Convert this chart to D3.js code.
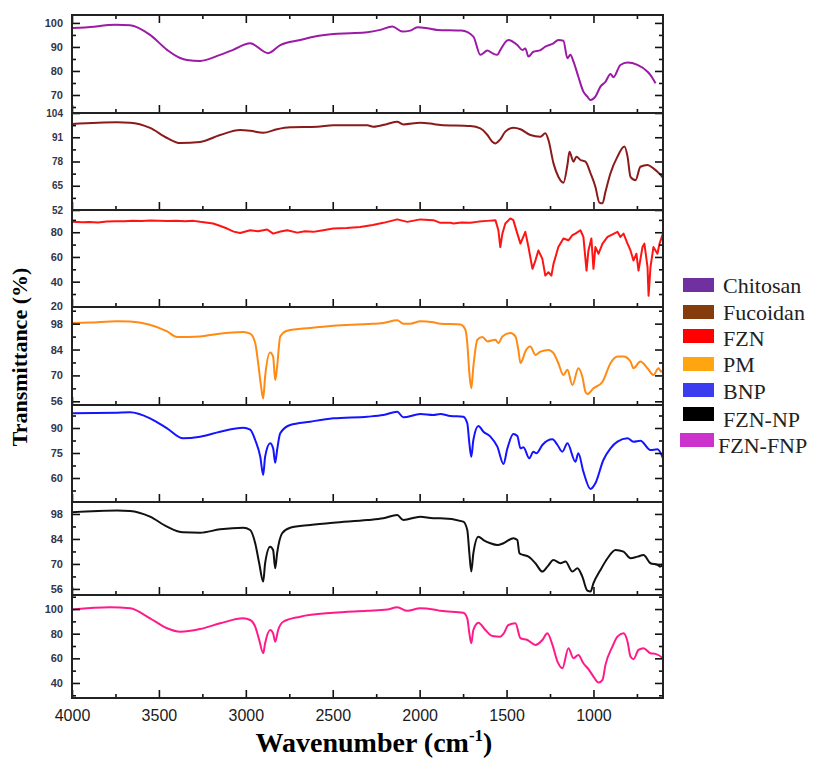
<!DOCTYPE html>
<html>
<head>
<meta charset="utf-8">
<script src="https://cdn.jsdelivr.net/npm/d3@7"></script>
<style>
  body { margin: 0; background: #fff; }
  svg { display: block; }
</style>
</head>
<body>
<svg id="chart" width="813" height="761"></svg>
<script>
// spectra: [wavenumber cm-1, transmittance %]
const chitosan = [[4000,97.9],[3925,98.1],[3750,99.2],[3666,99.0],[3551,95],[3453,88.8],[3378,85.4],[3338,84.6],[3263,84.2],[3148,86.7],[3073,88.8],[2975,91.5],[2871,87.4],[2802,90.8],[2687,92.9],[2589,94.6],[2497,95.4],[2399,95.7],[2301,96.1],[2227,97.1],[2157,98.5],[2100,96.4],[2054,96.8],[2013,98.2],[1956,97.8],[1898,97.1],[1760,96.8],[1691,94.3],[1651,86.7],[1610,88.5],[1582,87.4],[1553,86.7],[1536,88.7],[1490,92.9],[1438,90.8],[1409,88.7],[1392,89.4],[1374,86],[1346,88],[1305,88.7],[1277,90.1],[1230,91.5],[1202,92.9],[1173,92.6],[1150,85.3],[1133,86.7],[1115,83.9],[1087,77.6],[1058,71.4],[1035,69.3],[1017,67.9],[989,69.3],[960,73.5],[931,75.5],[902,78.7],[885,77.4],[845,82.5],[804,83.5],[747,82.5],[689,79.7],[672,78.3],[643,74.9]];

const fucoidan = [[4000,98.1],[3741,99.0],[3666,98.8],[3551,96],[3453,90.6],[3378,87.9],[3263,88.5],[3148,92.2],[3033,94.9],[2975,94.5],[2900,93.4],[2820,95.3],[2745,96.3],[2589,96.6],[2497,97.4],[2301,97.4],[2267,96.6],[2186,98.1],[2129,99.3],[2094,97.9],[1996,98.8],[1921,98.1],[1881,97.6],[1708,97],[1651,95.8],[1610,92.2],[1582,88.6],[1564,87.7],[1536,89.9],[1507,94],[1461,96.1],[1420,95.3],[1363,92.2],[1305,91.3],[1277,93.1],[1259,89.5],[1230,77],[1202,69.8],[1173,66.6],[1150,76.1],[1138,83.2],[1115,77.9],[1098,80.6],[1075,78.8],[1046,77.9],[1017,71.7],[989,64.5],[966,56],[948,55.6],[931,61.8],[902,71.7],[862,80.6],[822,86],[804,80.6],[787,69.8],[758,68],[730,75.2],[689,76.1],[655,74.3],[614,70.8],[600,69.3]];

const fzn = [[4000,88.4],[3940,88.0],[3900,88.3],[3850,87.9],[3800,88.6],[3750,88.8],[3700,88.9],[3650,89.3],[3600,89.1],[3550,89.5],[3500,89.3],[3450,89.0],[3400,89.2],[3350,88.9],[3300,89.2],[3263,88.4],[3188,87.1],[3150,85.2],[3108,83],[3070,80.5],[3033,79.4],[2975,81.6],[2930,80.8],[2877,82.2],[2843,78.9],[2800,80.6],[2762,81.6],[2704,79.7],[2660,80.8],[2612,80.3],[2555,81.6],[2497,83],[2420,83.5],[2342,84.3],[2270,85.8],[2209,87.6],[2129,90.4],[2071,88.4],[1996,90.4],[1921,89.8],[1881,87.6],[1823,87.6],[1806,87.1],[1760,87.9],[1708,87.6],[1660,88.6],[1610,89.2],[1564,89.8],[1547,81.6],[1536,68],[1524,78.9],[1507,87.1],[1478,91.2],[1461,89.8],[1438,78.9],[1420,70.8],[1392,80.3],[1374,68],[1351,50.4],[1334,57.1],[1317,65.3],[1294,58.5],[1277,44.9],[1259,47.6],[1242,44.9],[1230,54.4],[1202,68],[1173,74.9],[1144,73.5],[1121,77.6],[1104,78.9],[1075,81.6],[1058,76.2],[1040,49],[1029,65.3],[1012,74.9],[1000,50.4],[989,68],[971,62.6],[948,70.8],[919,76.2],[862,80.3],[845,76.2],[827,78.9],[804,70.8],[787,65.3],[770,57.1],[753,62.6],[741,49],[718,68],[707,70.8],[689,51.7],[683,28.6],[672,51.7],[655,68],[632,62.6],[620,70.8],[600,78.9]];

const pm = [[4000,98.4],[3900,98.6],[3741,99.3],[3666,99.1],[3453,93.8],[3395,90.8],[3263,91.1],[3165,92.4],[3015,93.5],[2975,92.6],[2946,87.5],[2929,76.6],[2912,63.9],[2900,57.5],[2889,69.3],[2860,82.4],[2843,80.2],[2831,67.5],[2820,74.7],[2802,91.1],[2762,94.2],[2630,95.7],[2497,96.9],[2301,97.8],[2209,98.4],[2129,99.8],[2094,98],[2054,98],[1996,99.3],[1921,98.7],[1881,98],[1766,97.5],[1737,94.7],[1726,87.5],[1714,71.2],[1703,63],[1691,74.7],[1668,89.3],[1639,90.8],[1610,88.4],[1564,89.3],[1547,87.5],[1524,91.1],[1478,92.9],[1449,91.1],[1432,83.8],[1420,76.6],[1409,78.4],[1392,82.9],[1363,85.6],[1334,81.1],[1305,82.9],[1259,83.8],[1230,82],[1202,76.6],[1173,70.2],[1150,73],[1121,64.8],[1087,73.9],[1064,69.3],[1046,61.1],[1035,59.9],[1000,63],[948,66.6],[902,76.6],[862,80.2],[827,80.2],[787,77.5],[770,73.9],[730,77.5],[689,73.9],[655,70.2],[626,73.9],[610,72],[600,73]];

const bnp = [[4000,98.8],[3741,99.2],[3666,99.4],[3551,95.8],[3453,89.8],[3361,83.8],[3263,84.8],[3148,87.8],[3015,90.2],[2975,89],[2946,82.8],[2917,72.8],[2900,61.8],[2889,72.8],[2860,80.8],[2843,77.8],[2831,69.2],[2820,76.8],[2802,86.8],[2745,91.8],[2630,93.8],[2497,95.8],[2301,96.8],[2209,97.8],[2129,99.8],[2094,96.4],[1996,98.4],[1921,97.8],[1881,98.4],[1823,97.2],[1749,96.8],[1726,92.8],[1714,80.8],[1703,72.8],[1691,82.8],[1662,91.2],[1633,87.8],[1593,84.8],[1553,78.8],[1518,68.4],[1495,77.8],[1461,86.4],[1438,85.2],[1420,77.8],[1403,78.4],[1369,71.8],[1346,75.8],[1328,74.8],[1294,79.8],[1236,83.2],[1207,79.8],[1179,75.8],[1150,80.8],[1104,69.8],[1087,74.8],[1058,63.8],[1017,53.4],[989,56.8],[943,70.8],[902,77.8],[862,81.8],[804,83.8],[770,81.8],[730,82.4],[672,76.8],[632,77.2],[600,71.8]];

const fznNp = [[4000,99],[3741,99.9],[3666,99.7],[3551,96.5],[3453,90.9],[3361,87.7],[3263,87.5],[3148,89.4],[3015,90.3],[2975,89],[2946,81.6],[2923,70.4],[2900,60.1],[2889,70.4],[2860,79.7],[2843,77.8],[2831,67.6],[2820,76],[2791,87.2],[2745,90.3],[2630,91.8],[2497,93.1],[2301,94.6],[2209,95.6],[2129,97.4],[2094,94.6],[1996,96.5],[1921,95.6],[1881,95.6],[1749,93.7],[1726,89],[1714,76],[1703,65.7],[1691,76],[1662,85.3],[1633,83.4],[1593,81.6],[1553,80.6],[1518,81.6],[1461,84.4],[1438,83.4],[1426,76],[1403,75],[1374,74.1],[1334,70.4],[1294,65.7],[1265,68.5],[1230,72.2],[1190,70.4],[1161,71.3],[1121,65.7],[1092,67.6],[1064,62.9],[1035,55],[1017,54.5],[1000,59.2],[960,66.6],[919,73.2],[873,77.8],[827,76.9],[787,73.2],[747,74.1],[712,75],[672,70.4],[632,69.5],[614,68.5],[600,70.4]];

const fznFnp = [[4000,99.7],[3781,101.4],[3666,100.6],[3551,92.5],[3453,84.4],[3378,81.6],[3263,83.8],[3148,88.4],[3015,92.5],[2975,91.1],[2946,85.7],[2923,74.9],[2900,64.1],[2889,72.2],[2860,83],[2843,80.3],[2831,73.5],[2814,83],[2785,89.7],[2687,93.8],[2497,97],[2301,98.6],[2186,99.7],[2129,101.4],[2071,98.6],[1996,100.6],[1921,99.7],[1881,98.6],[1749,97],[1726,92.5],[1714,80.3],[1703,72.2],[1691,83],[1662,88.9],[1622,83],[1582,78.1],[1536,77.6],[1518,79.8],[1490,87],[1449,88.4],[1420,76.3],[1380,74.9],[1334,70.9],[1294,74.9],[1265,80.3],[1236,70.9],[1207,57.3],[1179,52],[1144,68.2],[1115,60.1],[1087,62.8],[1058,56],[1029,51.2],[1000,45.2],[971,40.3],[948,42.5],[931,54.7],[891,69.5],[862,77.6],[827,80.3],[804,73.5],[787,61.4],[770,59.3],[741,66.8],[712,68.2],[672,64.1],[643,63.6],[603,60.1],[600,59]];

const names = ["Chitosan", "Fucoidan", "FZN", "PM", "BNP", "FZN-NP", "FZN-FNP"];
const series = [chitosan, fucoidan, fzn, pm, bnp, fznNp, fznFnp];
const yDomains = [[62.5, 103.3], [52, 104], [19.5, 98], [54, 107], [45.6, 103.8], [52.6, 104.7], [27.8, 111.4]];
const yMajor = [[100, 90, 80, 70], [104, 91, 78, 65, 52], [80, 60, 40, 20], [98, 84, 70, 56], [90, 75, 60], [98, 84, 70, 56], [100, 80, 60, 40]];
const yMinor = [[95, 85, 75, 65], [97.5, 84.5, 71.5, 58.5], [90, 70, 50, 30], [105, 91, 77, 63], [97.5, 82.5, 67.5, 52.5], [91, 77, 63], [110, 90, 70, 50, 30]];
const xMajor = [4000, 3500, 3000, 2500, 2000, 1500, 1000];
const xMinor = [3750, 3250, 2750, 2250, 1750, 1250, 750];

const lineColors = ["#9b1aa6", "#8b1a1a", "#ff1414", "#ff8a14", "#1414ff", "#111111", "#ff1a8a"];
const swatchColors = ["#7030a0", "#843c0c", "#ff0000", "#ffa50f", "#3b3bef", "#000000", "#cc33cc"];

// layout
const panelTop = [15, 113, 210, 307, 405, 502, 595];
const panelBottom = [113, 210, 307, 405, 502, 595, 698];
const left = 72, right = 663;

const svg = d3.select("#chart");
const x = d3.scaleLinear().domain([4000, 600]).range([left, right]);

series.forEach(function(data, i) {
    const y = d3.scaleLinear().domain(yDomains[i]).range([panelBottom[i], panelTop[i]]);
    const g = svg.append("g");

    g.append("clipPath").attr("id", "clip" + i)
        .append("rect")
        .attr("x", left).attr("y", panelTop[i])
        .attr("width", right - left).attr("height", panelBottom[i] - panelTop[i]);

    const line = d3.line()
        .x(d => x(d[0]))
        .y(d => y(d[1]));
    if (i != 2) line.curve(d3.curveMonotoneX);

    g.append("path")
        .datum(data)
        .attr("clip-path", "url(#clip" + i + ")")
        .attr("fill", "none")
        .attr("stroke", lineColors[i])
        .attr("stroke-width", 2)
        .attr("stroke-linejoin", "round")
        .attr("d", line);

    // left axis, ticks pointing inward
    const yl = g.append("g").attr("transform", "translate(" + left + ",0)")
        .call(d3.axisLeft(y).tickValues(yMajor[i]).tickSize(-8).tickPadding(9));
    yl.selectAll("text")
        .attr("font-family", "Liberation Sans, Arial, sans-serif")
        .attr("font-weight", "bold")
        .attr("font-size", i == 1 ? 10 : 11)
        .attr("fill", "#34344a");
    g.append("g").attr("transform", "translate(" + left + ",0)")
        .call(d3.axisLeft(y).tickValues(yMinor[i]).tickSize(-4).tickFormat(""));

    // right axis
    g.append("g").attr("transform", "translate(" + right + ",0)")
        .call(d3.axisRight(y).tickValues(yMajor[i]).tickSize(-8).tickFormat(""));
    g.append("g").attr("transform", "translate(" + right + ",0)")
        .call(d3.axisRight(y).tickValues(yMinor[i]).tickSize(-4).tickFormat(""));

    // bottom ticks
    const xb = g.append("g").attr("transform", "translate(0," + panelBottom[i] + ")")
        .call(d3.axisBottom(x).tickValues(xMajor).tickSize(-8).tickPadding(12)
            .tickFormat(i == series.length - 1 ? d3.format("d") : ""));
    xb.selectAll("text")
        .attr("font-family", "Liberation Sans, Arial, sans-serif")
        .attr("font-size", 16)
        .attr("fill", "#1a1a1a");
    g.append("g").attr("transform", "translate(0," + panelBottom[i] + ")")
        .call(d3.axisBottom(x).tickValues(xMinor).tickSize(-4).tickFormat(""));

    if (i == 0) {
        g.append("g").attr("transform", "translate(0," + panelTop[i] + ")")
            .call(d3.axisTop(x).tickValues(xMajor).tickSize(-8).tickFormat(""));
        g.append("g").attr("transform", "translate(0," + panelTop[i] + ")")
            .call(d3.axisTop(x).tickValues(xMinor).tickSize(-4).tickFormat(""));
    }

    g.selectAll(".domain").remove();
    g.selectAll(".tick line").attr("stroke", "#111").attr("stroke-width", 1.6);

    g.append("rect")
        .attr("x", left).attr("y", panelTop[i])
        .attr("width", right - left).attr("height", panelBottom[i] - panelTop[i])
        .attr("fill", "none")
        .attr("stroke", "#222")
        .attr("stroke-width", 2);
});

// axis titles
svg.append("text")
    .attr("transform", "translate(27,357) rotate(-90)")
    .attr("text-anchor", "middle")
    .attr("font-family", "Liberation Serif, Times New Roman, serif")
    .attr("font-weight", "bold")
    .attr("font-size", 22)
    .text("Transmittance (%)");

const xt = svg.append("text")
    .attr("x", 374).attr("y", 752)
    .attr("text-anchor", "middle")
    .attr("font-family", "Liberation Serif, Times New Roman, serif")
    .attr("font-weight", "bold")
    .attr("font-size", 28);
xt.append("tspan").text("Wavenumber (cm");
xt.append("tspan").attr("dy", -11).attr("font-size", 17).text("-1");
xt.append("tspan").attr("dy", 11).text(")");

// legend
const legendY = [278, 305, 329, 357, 383, 407, 433];
const legendTextY = [293, 320, 346, 372, 399, 427, 453];
const legend = svg.append("g");
names.forEach(function(n, i) {
    legend.append("rect")
        .attr("x", i == 6 ? 680 : 683).attr("y", legendY[i])
        .attr("width", i == 6 ? 34 : 31).attr("height", 14)
        .attr("fill", swatchColors[i]);
    legend.append("text")
        .attr("x", i == 6 ? 718 : 723).attr("y", legendTextY[i])
        .attr("font-family", "Liberation Serif, Times New Roman, serif")
        .attr("font-size", 22)
        .attr("fill", "#222")
        .text(n);
});
</script>
</body>
</html>
